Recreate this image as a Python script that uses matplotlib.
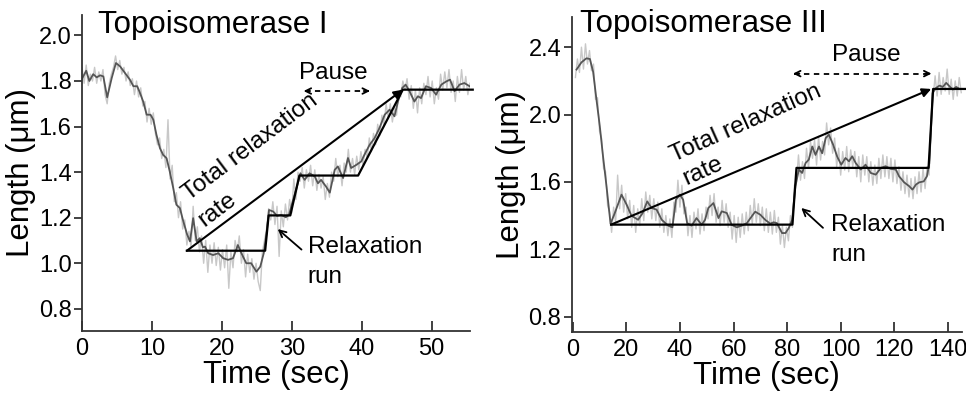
import numpy as np
import matplotlib.pyplot as plt

plt.rcParams['font.family'] = ['Liberation Sans', 'DejaVu Sans']

# ---- Topoisomerase I ----
t1_smooth = [0.0, 0.6, 1.05, 1.6, 2.1, 2.6, 3.05, 3.6, 4.25, 4.85, 5.45, 6.15, 6.85, 7.35, 7.9,
             8.3, 8.75, 9.25, 9.8, 10.2, 10.65, 11.15, 11.6, 12.1, 12.55, 13.05, 13.5, 14.0, 14.5,
             15.05, 15.45, 15.9, 16.4, 16.85, 17.3, 17.6, 18.05, 18.75, 19.5, 20.2, 20.9, 21.6,
             22.3, 22.8, 23.5, 24.2, 24.95, 25.5, 26.0, 26.4, 26.75, 27.35, 27.9, 28.5, 29.15,
             29.6, 30.2, 30.75, 31.25, 31.85, 32.55, 33.3, 33.75, 34.2, 34.9, 35.45, 36.15, 36.6,
             37.35, 38.05, 38.5, 39.25, 39.95, 40.4, 41.15, 41.85, 42.55, 43.3, 44.0, 44.7, 45.2,
             45.8, 46.3, 46.85, 47.55, 48.05, 48.5, 49.2, 49.95, 50.65, 51.4, 52.1, 52.65, 53.3,
             54.0, 54.7, 55.45]
v1_smooth = [1.81, 1.845, 1.80, 1.83, 1.816, 1.825, 1.82, 1.728, 1.813, 1.879, 1.864, 1.835, 1.806,
             1.777, 1.777, 1.747, 1.71, 1.652, 1.652, 1.63, 1.564, 1.505, 1.476, 1.461, 1.403, 1.33,
             1.257, 1.242, 1.183, 1.125, 1.096, 1.198, 1.096, 1.11, 1.07, 1.073, 1.044, 1.036, 1.044,
             1.022, 1.015, 1.022, 1.08, 1.044, 1.0, 1.0, 0.963, 0.985, 1.044, 1.132, 1.234, 1.227,
             1.208, 1.212, 1.202, 1.212, 1.278, 1.337, 1.395, 1.366, 1.395, 1.381, 1.351, 1.366,
             1.337, 1.31, 1.41, 1.425, 1.374, 1.462, 1.418, 1.432, 1.447, 1.476, 1.52, 1.549, 1.593,
             1.652, 1.674, 1.645, 1.71, 1.769, 1.784, 1.755, 1.71, 1.733, 1.725, 1.777, 1.769, 1.74,
             1.784, 1.798, 1.806, 1.755, 1.784, 1.791, 1.777]
# raw trace, one point every 0.3 s from t=0
v1_raw = [1.86, 1.79, 1.87, 1.78, 1.83, 1.80, 1.86, 1.79, 1.84, 1.80,
          1.85, 1.74, 1.70, 1.79, 1.83, 1.86, 1.91, 1.85, 1.89, 1.83,
          1.86, 1.80, 1.84, 1.78, 1.81, 1.74, 1.80, 1.73, 1.77, 1.69,
          1.71, 1.62, 1.68, 1.61, 1.66, 1.57, 1.52, 1.55, 1.46, 1.50,
          1.42, 1.63, 1.37, 1.43, 1.27, 1.31, 1.20, 1.27, 1.15, 1.19,
          1.08, 1.14, 1.07, 1.25, 1.10, 1.16, 1.05, 1.12, 1.00, 1.10,
          0.96, 1.08, 1.00, 1.09, 0.99, 1.07, 0.97, 1.06, 0.98, 1.08,
          0.89, 1.05, 0.98, 1.10, 1.05, 1.12, 1.00, 1.06, 0.94, 1.04,
          0.96, 1.02, 0.93, 1.00, 0.92, 0.88, 1.05, 1.10, 1.15, 1.24,
          1.19, 1.27, 1.17, 1.25, 1.03, 1.23, 1.16, 1.26, 1.19, 1.28,
          1.22, 1.37, 1.28, 1.40, 1.36, 1.42, 1.33, 1.41, 1.36, 1.43,
          1.34, 1.41, 1.32, 1.39, 1.33, 1.38, 1.28, 1.35, 1.29, 1.40,
          1.36, 1.46, 1.38, 1.43, 1.34, 1.44, 1.40, 1.50, 1.40, 1.46,
          1.39, 1.47, 1.41, 1.49, 1.43, 1.50, 1.46, 1.55, 1.49, 1.57,
          1.52, 1.61, 1.56, 1.65, 1.60, 1.70, 1.64, 1.70, 1.62, 1.68,
          1.65, 1.75, 1.73, 1.80, 1.76, 1.81, 1.72, 1.78, 1.68, 1.76,
          1.66, 1.77, 1.70, 1.79, 1.74, 1.82, 1.73, 1.80, 1.70, 1.77,
          1.72, 1.83, 1.76, 1.84, 1.77, 1.85, 1.75, 1.80, 1.71, 1.82,
          1.75, 1.85, 1.76, 1.82, 1.74, 1.79]
t1_step = [15.0, 26.2, 26.7, 29.8, 31.1, 39.5, 45.9, 55.9]
v1_step = [1.055, 1.055, 1.21, 1.21, 1.385, 1.385, 1.762, 1.762]

# ---- Topoisomerase III ----
t3_smooth = [1.4, 3.25, 5.1, 6.4, 7.6, 8.85, 10.1, 11.3, 12.6, 14.1, 15.7, 18.2, 20.1, 21.9, 24.4,
             26.1, 27.8, 29.4, 31.3, 33.2, 35.6, 37.2, 38.5, 40.0, 41.2, 42.7, 44.4, 46.2, 48.1,
             49.4, 50.6, 52.5, 54.4, 55.6, 57.5, 59.3, 61.2, 63.1, 65.0, 66.8, 68.1, 70.0, 71.8,
             73.7, 75.0, 76.2, 78.1, 79.4, 80.6, 81.9, 83.1, 84.4, 85.6, 86.9, 88.1, 89.4, 90.6,
             91.9, 93.1, 94.4, 95.6, 97.2, 98.7, 100.2, 101.8, 103.1, 104.3, 105.6, 107.5, 109.3,
             111.2, 113.1, 115.0, 116.8, 118.7, 120.6, 121.8, 123.7, 125.6, 126.8, 128.1, 129.3,
             131.0, 132.2, 133.1, 133.7, 134.3, 135.6, 136.9, 138.1, 139.4, 140.6, 141.9, 143.1,
             144.4]
v3_smooth = [2.267, 2.31, 2.334, 2.33, 2.254, 2.089, 1.93, 1.752, 1.574, 1.352, 1.415, 1.524, 1.465,
             1.399, 1.375, 1.415, 1.484, 1.445, 1.435, 1.375, 1.34, 1.33, 1.494, 1.524, 1.494, 1.355,
             1.34, 1.385, 1.345, 1.375, 1.445, 1.474, 1.385, 1.425, 1.415, 1.345, 1.33, 1.34, 1.355,
             1.395, 1.423, 1.405, 1.375, 1.352, 1.36, 1.355, 1.296, 1.296, 1.325, 1.375, 1.574,
             1.673, 1.653, 1.712, 1.732, 1.81, 1.76, 1.81, 1.77, 1.86, 1.88, 1.82, 1.75, 1.702,
             1.742, 1.722, 1.752, 1.712, 1.673, 1.702, 1.653, 1.643, 1.683, 1.693, 1.677, 1.673,
             1.633, 1.597, 1.574, 1.554, 1.584, 1.597, 1.603, 1.633, 1.712, 1.91, 2.128, 2.158,
             2.172, 2.164, 2.188, 2.168, 2.148, 2.164, 2.152]
# raw trace, one point every 0.75 s from t=1
v3_raw = [2.22, 2.33, 2.25, 2.40, 2.27, 2.42, 2.30, 2.38, 2.26, 2.30,
          2.09, 2.10, 1.90, 1.86, 1.68, 1.66, 1.46, 1.42, 1.30, 1.45,
          1.36, 1.64, 1.44, 1.58, 1.42, 1.53, 1.38, 1.49, 1.33, 1.46,
          1.30, 1.44, 1.34, 1.50, 1.37, 1.54, 1.42, 1.52, 1.38, 1.50,
          1.37, 1.48, 1.33, 1.44, 1.30, 1.40, 1.28, 1.38, 1.27, 1.48,
          1.42, 1.61, 1.45, 1.58, 1.41, 1.45, 1.28, 1.40, 1.27, 1.42,
          1.32, 1.44, 1.29, 1.41, 1.31, 1.45, 1.38, 1.52, 1.40, 1.53,
          1.36, 1.45, 1.34, 1.49, 1.36, 1.47, 1.33, 1.42, 1.26, 1.40,
          1.24, 1.39, 1.27, 1.41, 1.29, 1.42, 1.31, 1.46, 1.35, 1.50,
          1.36, 1.47, 1.34, 1.45, 1.31, 1.44, 1.30, 1.42, 1.29, 1.43,
          1.30, 1.39, 1.23, 1.34, 1.21, 1.33, 1.25, 1.40, 1.33, 1.58,
          1.60, 1.76, 1.61, 1.72, 1.62, 1.80, 1.68, 1.84, 1.74, 1.85,
          1.70, 1.87, 1.73, 1.84, 1.76, 1.95, 1.82, 1.92, 1.77, 1.86,
          1.69, 1.80, 1.64, 1.78, 1.67, 1.81, 1.66, 1.79, 1.69, 1.78,
          1.63, 1.75, 1.60, 1.76, 1.64, 1.75, 1.60, 1.72, 1.58, 1.70,
          1.59, 1.74, 1.62, 1.76, 1.63, 1.75, 1.62, 1.74, 1.60, 1.73,
          1.59, 1.69, 1.55, 1.66, 1.53, 1.64, 1.51, 1.62, 1.50, 1.63,
          1.53, 1.66, 1.54, 1.68, 1.56, 1.69, 1.64, 1.96, 2.10, 2.23,
          2.11, 2.25, 2.12, 2.22, 2.14, 2.27, 2.12, 2.21, 2.09, 2.20,
          2.11, 2.22, 2.13]
t3_step = [14.3, 82.0, 83.5, 132.8, 134.5, 146.5]
v3_step = [1.346, 1.346, 1.683, 1.683, 2.152, 2.152]

t1_raw = 0.3 * np.arange(len(v1_raw))
t3_raw = 1.0 + 0.75 * np.arange(len(v3_raw))

fig = plt.figure(figsize=(9.66, 3.93), dpi=100)
ax1 = fig.add_axes([0.0849, 0.158, 0.4016, 0.804])
ax3 = fig.add_axes([0.5918, 0.156, 0.4041, 0.801])

raw_col = '#c8c8c8'
smooth_col = '#555555'
txt = 17.5


def style(ax, xlim, ylim, xticks, yticks, fmt):
    ax.set_xlim(*xlim)
    ax.set_ylim(*ylim)
    for s in ['top', 'right']:
        ax.spines[s].set_visible(False)
    for s in ['left', 'bottom']:
        ax.spines[s].set_linewidth(1.3)
        ax.spines[s].set_color('#333333')
    ax.set_xticks(xticks)
    ax.set_yticks(yticks)
    ax.set_yticklabels([fmt % y for y in yticks])
    ax.tick_params(axis='x', direction='in', length=7, width=1.3, labelsize=17, pad=5, color='#333333')
    ax.tick_params(axis='y', direction='out', length=6, width=1.3, labelsize=17, pad=1.5, color='#333333')
    ax.set_xlabel('Time (sec)', fontsize=22.5, labelpad=0)
    ax.set_ylabel('Length (\u03bcm)', fontsize=22.5, labelpad=2)


# left panel
ax1.plot(t1_raw, v1_raw, color=raw_col, lw=1.0, zorder=1)
ax1.plot(t1_smooth, v1_smooth, color=smooth_col, lw=1.3, zorder=2)
ax1.plot(t1_step, v1_step, color='k', lw=1.6, zorder=3, clip_on=False)
ax1.annotate('', xy=(45.9, 1.762), xytext=(15.0, 1.055),
             arrowprops=dict(arrowstyle='-|>', color='k', lw=1.5, mutation_scale=13, shrinkA=0, shrinkB=0))
ax1.plot([31.9, 41.0], [1.756, 1.756], color='k', lw=1.3, ls=(0, (3, 2.5)))
ax1.annotate('', xy=(31.7, 1.756), xytext=(32.6, 1.756),
             arrowprops=dict(arrowstyle='->', color='k', lw=1.3, mutation_scale=10, shrinkA=0, shrinkB=0))
ax1.annotate('', xy=(41.2, 1.756), xytext=(40.3, 1.756),
             arrowprops=dict(arrowstyle='->', color='k', lw=1.3, mutation_scale=10, shrinkA=0, shrinkB=0))
ax1.text(35.9, 1.835, 'Pause', fontsize=txt, ha='center', va='center')
ax1.text(24.1, 1.51, 'Total relaxation', fontsize=txt, ha='center', va='center', rotation=37, rotation_mode='anchor')
ax1.text(19.3, 1.236, 'rate', fontsize=txt, ha='center', va='center', rotation=37, rotation_mode='anchor')
ax1.annotate('', xy=(28.0, 1.15), xytext=(31.4, 1.06),
             arrowprops=dict(arrowstyle='->', color='k', lw=1.3, mutation_scale=12, shrinkA=0, shrinkB=0))
ax1.text(32.3, 1.07, 'Relaxation', fontsize=txt, ha='left', va='center')
ax1.text(32.3, 0.94, 'run', fontsize=txt, ha='left', va='center')
ax1.text(2.3, 2.048, 'Topoisomerase I', fontsize=22.5, ha='left', va='center')
style(ax1, (0, 55.5), (0.703, 2.09), [0, 10, 20, 30, 40, 50], [0.8, 1.0, 1.2, 1.4, 1.6, 1.8, 2.0], '%.1f')

# right panel
ax3.plot(t3_raw, v3_raw, color=raw_col, lw=1.0, zorder=1)
ax3.plot(t3_smooth, v3_smooth, color=smooth_col, lw=1.3, zorder=2)
ax3.plot(t3_step, v3_step, color='k', lw=1.6, zorder=3, clip_on=False)
ax3.annotate('', xy=(133.8, 2.152), xytext=(14.3, 1.346),
             arrowprops=dict(arrowstyle='-|>', color='k', lw=1.5, mutation_scale=13, shrinkA=0, shrinkB=0))
ax3.plot([82.6, 133.4], [2.243, 2.243], color='k', lw=1.3, ls=(0, (3, 2.5)))
ax3.annotate('', xy=(82.2, 2.243), xytext=(84.6, 2.243),
             arrowprops=dict(arrowstyle='->', color='k', lw=1.3, mutation_scale=10, shrinkA=0, shrinkB=0))
ax3.annotate('', xy=(133.9, 2.243), xytext=(131.5, 2.243),
             arrowprops=dict(arrowstyle='->', color='k', lw=1.3, mutation_scale=10, shrinkA=0, shrinkB=0))
ax3.text(109.5, 2.356, 'Pause', fontsize=txt, ha='center', va='center')
ax3.text(64.8, 1.95, 'Total relaxation', fontsize=txt, ha='center', va='center', rotation=24, rotation_mode='anchor')
ax3.text(48.6, 1.663, 'rate', fontsize=txt, ha='center', va='center', rotation=24, rotation_mode='anchor')
ax3.annotate('', xy=(85.3, 1.445), xytext=(93.4, 1.327),
             arrowprops=dict(arrowstyle='->', color='k', lw=1.3, mutation_scale=12, shrinkA=0, shrinkB=0))
ax3.text(96.5, 1.346, 'Relaxation', fontsize=txt, ha='left', va='center')
ax3.text(96.5, 1.168, 'run', fontsize=txt, ha='left', va='center')
ax3.text(2.6, 2.535, 'Topoisomerase III', fontsize=22.5, ha='left', va='center')
style(ax3, (-0.4, 145.3), (0.71, 2.58), [0, 20, 40, 60, 80, 100, 120, 140], [0.8, 1.2, 1.6, 2.0, 2.4], '%.1f')

fig.savefig('out.png', dpi=100)
